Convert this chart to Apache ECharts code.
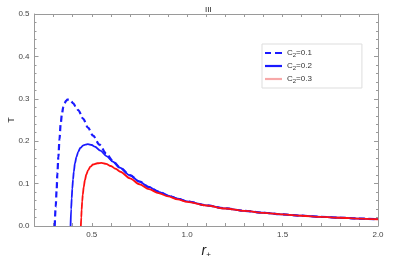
<!DOCTYPE html>
<html><head><meta charset="utf-8">
<script src="https://cdn.jsdelivr.net/npm/echarts@6/dist/echarts.min.js"></script>
<style>html,body{margin:0;padding:0;background:#fff}#c{width:415px;height:260px}</style>
</head><body><div id="c"></div>
<script>
const seriesNames = ['C2=0.1', 'C2=0.2', 'C2=0.3'];
const legendLabels = ['0.1', '0.2', '0.3'];
const r1 = [0.306,0.311,0.316,0.320,0.325,0.331,0.337,0.344,0.351,0.358,0.365,0.372,0.380,0.390,0.403,0.416,0.430,0.455,0.480,0.507,0.540,0.577,0.610,0.647,0.700,0.750,0.800,0.850,0.900,0.950,1.000,1.100,1.200,1.300,1.400,1.500,1.600,1.700,1.800,1.900,2.000];
const t1 = [0.000,0.045,0.085,0.125,0.163,0.205,0.240,0.265,0.281,0.290,0.295,0.298,0.298,0.295,0.289,0.282,0.273,0.253,0.232,0.213,0.192,0.170,0.1535,0.1380,0.1200,0.1050,0.0920,0.0810,0.0720,0.0645,0.0580,0.0488,0.0416,0.0358,0.0312,0.0274,0.0243,0.0217,0.0195,0.0176,0.0160];
const r2 = [0.389,0.392,0.395,0.398,0.402,0.406,0.412,0.420,0.429,0.440,0.455,0.467,0.480,0.500,0.516,0.545,0.577,0.610,0.647,0.700,0.750,0.800,0.850,0.900,0.950,1.000,1.100,1.200,1.300,1.400,1.500,1.600,1.700,1.800,1.900,2.000];
const t2 = [0.000,0.040,0.065,0.088,0.110,0.128,0.148,0.163,0.175,0.184,0.190,0.192,0.193,0.191,0.187,0.178,0.165,0.152,0.1375,0.1195,0.1045,0.0915,0.0806,0.0717,0.0643,0.0579,0.0488,0.0416,0.0358,0.0312,0.0274,0.0243,0.0217,0.0195,0.0176,0.0160];
const r3 = [0.443,0.445,0.447,0.450,0.453,0.458,0.464,0.472,0.481,0.493,0.507,0.530,0.551,0.575,0.600,0.625,0.650,0.700,0.750,0.800,0.850,0.900,0.950,1.000,1.100,1.200,1.300,1.400,1.500,1.600,1.700,1.800,1.900,2.000];
const t3 = [0.000,0.020,0.038,0.058,0.074,0.092,0.108,0.122,0.132,0.140,0.145,0.148,0.149,0.1465,0.1415,0.1350,0.1280,0.1125,0.0985,0.0870,0.0775,0.0697,0.0628,0.0570,0.0483,0.0413,0.0356,0.0311,0.0273,0.0242,0.0216,0.0194,0.0175,0.0159];
const yTicks = [0.0, 0.1, 0.2, 0.3, 0.4, 0.5];

const zip = (a, b) => a.map((v, i) => [v, b[i]]);
const gray = '#9a9a9a';
const font = 'Liberation Sans, Arial, sans-serif';

function xAx(pos, showLabel) {
  return {
    type: 'value', position: pos, min: 0.2, max: 2.0, interval: 0.1,
    axisLine: { show: true, onZero: false, lineStyle: { color: gray, width: 1 } },
    axisTick: { show: true, inside: true, length: 3, lineStyle: { color: gray } },
    splitLine: { show: false },
    axisLabel: {
      show: showLabel, margin: 5, fontSize: 8, color: '#444', fontFamily: font,
      showMinLabel: false,
      formatter: v => Math.abs(v * 2 - Math.round(v * 2)) < 1e-6 ? v.toFixed(1) : ''
    }
  };
}
function yAx(pos, showLabel) {
  return {
    type: 'value', position: pos, min: yTicks[0], max: yTicks[yTicks.length - 1], interval: 0.1,
    axisLine: { show: true, lineStyle: { color: gray, width: 1 } },
    axisTick: { show: true, inside: true, length: 4, lineStyle: { color: gray } },
    minorTick: { show: true, splitNumber: 5, length: 2, lineStyle: { color: gray } },
    splitLine: { show: false },
    axisLabel: { show: showLabel, margin: 5, fontSize: 8, color: '#444', fontFamily: font,
      formatter: v => v.toFixed(1) }
  };
}

const chart = echarts.init(document.getElementById('c'), null, { renderer: 'canvas' });
const xb = xAx('bottom', true);
xb.name = '{r|r}{s|+}';
xb.nameLocation = 'middle';
xb.nameGap = 10;
xb.nameTextStyle = { rich: {
  r: { fontSize: 14, fontStyle: 'italic', fontFamily: font, color: '#222' },
  s: { fontSize: 8, fontFamily: font, color: '#222', verticalAlign: 'bottom', padding: [8, 0, 0, 0] }
} };

chart.setOption({
  animation: false,
  backgroundColor: '#fff',
  title: { text: 'III', left: 200, top: 1, textStyle: { fontSize: 8, fontWeight: 'normal', color: '#222', fontFamily: font } },
  grid: { left: 34.5, right: 37, top: 14, bottom: 34, outerBoundsMode: 'none', containLabel: false },
  xAxis: [xb, xAx('top', false)],
  yAxis: [yAx('left', true), yAx('right', false)],
  graphic: [{
    type: 'text', x: 12, y: 120, rotation: Math.PI / 2,
    style: { text: 'T', fontSize: 9, fontFamily: font, fill: '#333', align: 'center', verticalAlign: 'middle' }
  }],
  legend: {
    orient: 'vertical', left: 262, top: 44,
    padding: [5, 50, 4, 3], itemGap: 4, itemWidth: 17, itemHeight: 2.2,
    borderColor: '#dddddd', borderWidth: 1, backgroundColor: '#fff',
    formatter: name => '{a|C}{s|2}{a|=' + legendLabels[seriesNames.indexOf(name)] + '}',
    textStyle: { rich: {
      a: { fontSize: 8, fontFamily: font, color: '#333', lineHeight: 9 },
      s: { fontSize: 6, fontFamily: font, color: '#333', verticalAlign: 'bottom', padding: [4, 0, 0, 0] }
    } },
    data: [
      { name: seriesNames[0], icon: 'path://M0,0h6v2h-6z M10,0h7v2h-7z', itemStyle: { color: '#1a1aff' } },
      { name: seriesNames[1], icon: 'rect', itemStyle: { color: '#1a1aff' } },
      { name: seriesNames[2], icon: 'rect', itemStyle: { color: '#f7a8a8' } }
    ]
  },
  series: [
    { name: seriesNames[0], type: 'line', data: zip(r1, t1), symbol: 'none', smooth: 0.3, smoothMonotone: 'x',
      lineStyle: { color: '#1a1aff', width: 2.2, type: [6, 3.5] }, itemStyle: { color: '#1a1aff' }, z: 2 },
    { name: seriesNames[1], type: 'line', data: zip(r2, t2), symbol: 'none', smooth: 0.3, smoothMonotone: 'x',
      lineStyle: { color: '#1a1aff', width: 1.8 }, itemStyle: { color: '#1a1aff' }, z: 3 },
    { name: seriesNames[2], type: 'line', data: zip(r3, t3), symbol: 'none', smooth: 0.3, smoothMonotone: 'x',
      lineStyle: { color: '#ff1010', width: 1.8 }, itemStyle: { color: '#ff1010' }, z: 4 }
  ]
});
</script></body></html>
